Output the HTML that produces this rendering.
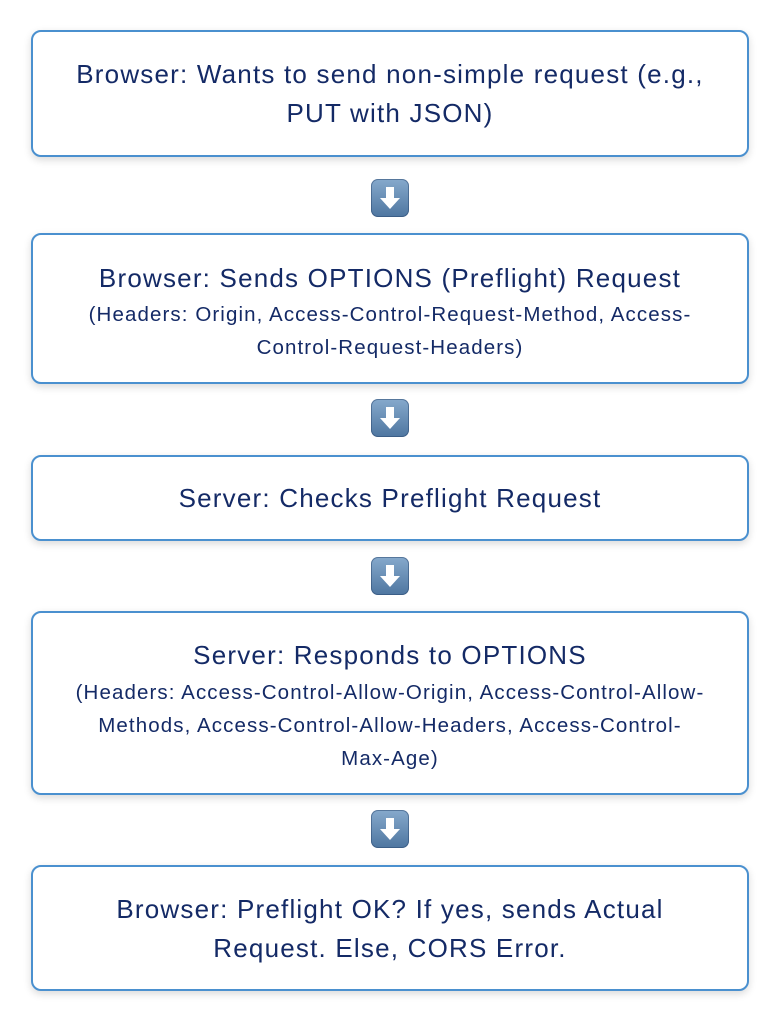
<!DOCTYPE html>
<html><head><meta charset="utf-8"><style>
html,body{margin:0;padding:0;background:#fff;width:782px;height:1023px;overflow:hidden}
.box{position:absolute;left:31px;width:718px;border:2px solid #4a90cf;border-radius:10px;box-shadow:0 3px 8px rgba(0,0,0,0.15);background:#fff;color:#142a66;font-family:"Liberation Sans",sans-serif;text-align:center;box-sizing:border-box}
.t{font-size:26px;letter-spacing:1.2px;line-height:39px;position:absolute;left:0;right:0;white-space:nowrap}
.s{font-size:20.5px;letter-spacing:1.1px;line-height:33px;position:absolute;left:0;right:0;white-space:nowrap}
.arr{position:absolute;left:371px;width:38px;height:38px;border-radius:7px;background:linear-gradient(#86a9cc,#4e76a0);box-shadow:inset 0 0 0 1px rgba(40,70,110,.5)}
</style></head><body>
<div class="box" style="top:30px;height:127px"><div class="t" style="top:23px">Browser: Wants to send non-simple request (e.g.,<br>PUT with JSON)</div></div>
<div class="arr" style="top:179px"><svg width="38" height="38"><polygon points="15,8 23,8 23,19 29,19 19,30 9,19 15,19" fill="#fff"/></svg></div>
<div class="box" style="top:233px;height:151px"><div class="t" style="top:24px">Browser: Sends OPTIONS (Preflight) Request</div><div class="s" style="top:63px">(Headers: Origin, Access-Control-Request-Method, Access-<br>Control-Request-Headers)</div></div>
<div class="arr" style="top:399px"><svg width="38" height="38"><polygon points="15,8 23,8 23,19 29,19 19,30 9,19 15,19" fill="#fff"/></svg></div>
<div class="box" style="top:455px;height:86px"><div class="t" style="top:22px">Server: Checks Preflight Request</div></div>
<div class="arr" style="top:557px"><svg width="38" height="38"><polygon points="15,8 23,8 23,19 29,19 19,30 9,19 15,19" fill="#fff"/></svg></div>
<div class="box" style="top:611px;height:184px"><div class="t" style="top:23px">Server: Responds to OPTIONS</div><div class="s" style="top:63px">(Headers: Access-Control-Allow-Origin, Access-Control-Allow-<br>Methods, Access-Control-Allow-Headers, Access-Control-<br>Max-Age)</div></div>
<div class="arr" style="top:810px"><svg width="38" height="38"><polygon points="15,8 23,8 23,19 29,19 19,30 9,19 15,19" fill="#fff"/></svg></div>
<div class="box" style="top:865px;height:126px"><div class="t" style="top:23px">Browser: Preflight OK? If yes, sends Actual<br>Request. Else, CORS Error.</div></div>
</body></html>
